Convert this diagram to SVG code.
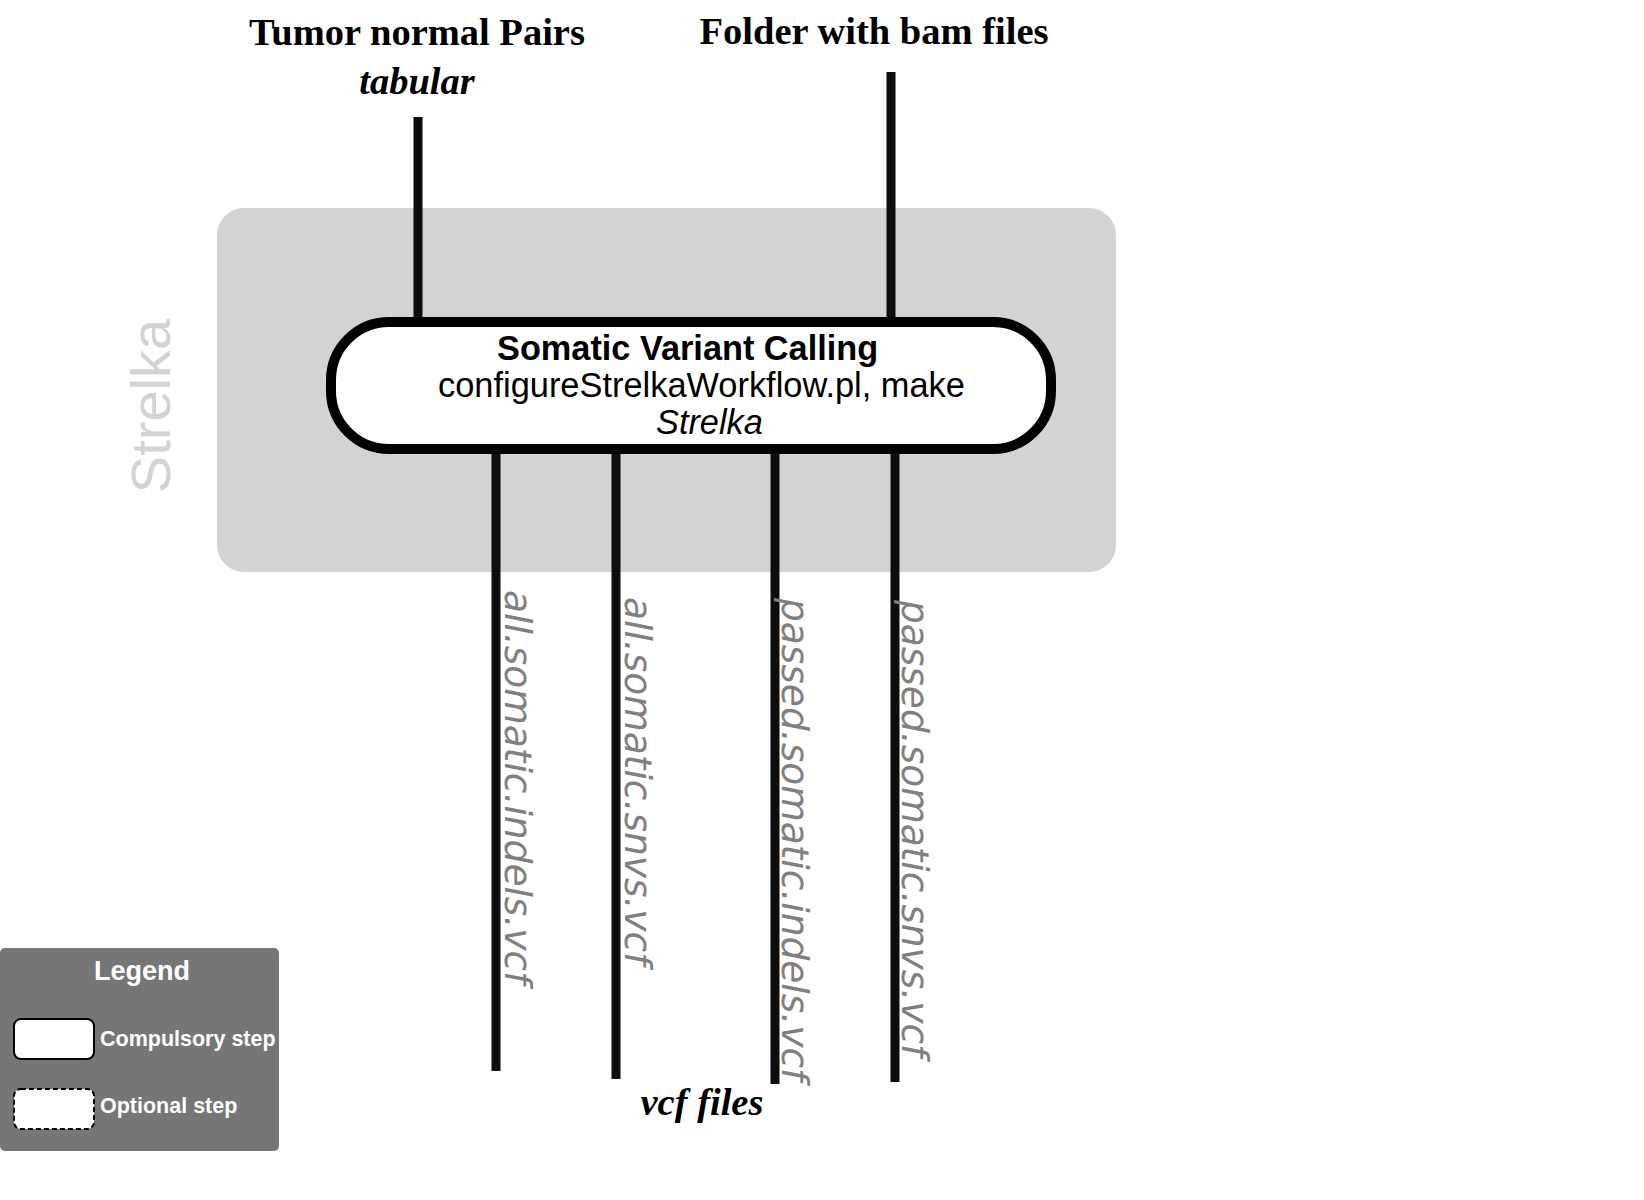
<svg xmlns="http://www.w3.org/2000/svg" width="1644" height="1200" viewBox="0 0 1644 1200">
<style>
.hd{font-family:"Liberation Serif","Times New Roman",serif;font-weight:bold;font-size:38.5px;fill:#000}
.hi{font-style:italic}
.conn{stroke:#0d0d0d;stroke-width:9;fill:none}
.lbl{font-family:"DejaVu Sans",sans-serif;font-style:italic;font-size:37.5px;fill:#808080}
.sans{font-family:"Liberation Sans",Arial,sans-serif}
.lg{font-family:"Liberation Sans",Arial,sans-serif;font-weight:bold;fill:#fff}
</style>
<rect width="1644" height="1200" fill="#fff"/>
<g id="cluster-strelka">
<rect x="217" y="208" width="899" height="364" rx="27" ry="27" fill="#d3d3d3"/>
<text class="sans" font-size="56" fill="#d3d3d3" text-anchor="middle" transform="translate(170,406) rotate(-90)">Strelka</text>
</g>
<g id="connectors">
<line class="conn" x1="418" y1="117" x2="418" y2="322"/>
<line class="conn" x1="891" y1="72" x2="891" y2="322"/>
<line class="conn" x1="496" y1="449" x2="496" y2="1071"/>
<line class="conn" x1="616" y1="449" x2="616" y2="1079"/>
<line class="conn" x1="775" y1="449" x2="775" y2="1084"/>
<line class="conn" x1="895" y1="449" x2="895" y2="1082"/>
<text class="lbl" transform="translate(505,590) rotate(90)">all.somatic.indels.vcf</text>
<text class="lbl" transform="translate(625,597) rotate(90)">all.somatic.snvs.vcf</text>
<text class="lbl" transform="translate(782,598) rotate(90)">passed.somatic.indels.vcf</text>
<text class="lbl" transform="translate(902,600) rotate(90)">passed.somatic.snvs.vcf</text>
</g>
<g id="input-tumor">
<text class="hd" x="417" y="45" text-anchor="middle">Tumor normal Pairs</text>
<text class="hd hi" x="417" y="94" text-anchor="middle">tabular</text>
</g>
<g id="input-bam">
<text class="hd" x="874" y="44" text-anchor="middle">Folder with bam files</text>
</g>
<g id="output-vcf">
<text class="hd hi" x="702" y="1115" text-anchor="middle" font-size="39">vcf files</text>
</g>
<g id="node-somatic">
<rect x="331" y="322" width="720" height="127" rx="58" ry="58" fill="#fff" stroke="#000" stroke-width="10"/>
<text class="sans" font-size="34.3" font-weight="bold" x="497" y="360">Somatic Variant Calling</text>
<text class="sans" font-size="34.4" x="438" y="397">configureStrelkaWorkflow.pl, make</text>
<text class="sans" font-size="34.3" font-style="italic" x="656" y="434">Strelka</text>
</g>
<g id="legend">
<rect x="0" y="948" width="279" height="203" rx="5" ry="5" fill="#767676"/>
<text class="lg" font-size="27" x="142" y="980" text-anchor="middle">Legend</text>
<rect x="14" y="1019" width="80" height="40" rx="7" ry="7" fill="#fff" stroke="#000" stroke-width="2"/>
<text class="lg" font-size="21.5" x="100" y="1046">Compulsory step</text>
<rect x="14" y="1089" width="80" height="40" rx="7" ry="7" fill="#fff" stroke="#000" stroke-width="2" stroke-dasharray="5,3"/>
<text class="lg" font-size="21.5" x="100" y="1113">Optional step</text>
</g>
</svg>
